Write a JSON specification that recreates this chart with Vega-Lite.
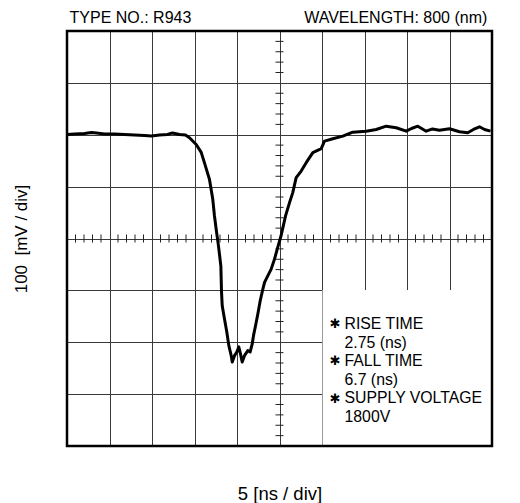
{
  "$schema": "https://vega.github.io/schema/vega-lite/v6.json",
  "width": 425,
  "height": 415,
  "autosize": {"type": "none"},
  "padding": {"left": 67, "top": 31, "right": 28, "bottom": 57},
  "background": "white",
  "config": {
    "view": {"stroke": null},
    "font": "Liberation Sans",
    "text": {"font": "Liberation Sans", "color": "black"}
  },
  "datasets": {
    "one": [{"k": 1}],
    "wave": [
      {"t":0.06,"v":200.5},{"t":0.88,"v":201.5},{"t":2.06,"v":202.5},{"t":2.88,"v":204.4},{"t":3.47,"v":203.5},{"t":4.41,"v":201.5},{"t":5.59,"v":201.5},{"t":6.76,"v":200.6},{"t":7.94,"v":199.6},{"t":9.12,"v":198.6},{"t":9.94,"v":197.7},{"t":10.88,"v":199.6},{"t":11.82,"v":200.6},{"t":12.41,"v":203.5},{"t":13.24,"v":200.6},{"t":13.94,"v":199.6},{"t":14.41,"v":194.2},{"t":15.2,"v":181.3},{"t":15.79,"v":166},{"t":16.29,"v":139.6},{"t":16.76,"v":114},{"t":17.15,"v":75.6},{"t":17.35,"v":43.5},{"t":17.55,"v":17.9},{"t":17.82,"v":-14.2},{"t":18.1,"v":-52.7},{"t":18.18,"v":-103.3},{"t":18.26,"v":-129.6},{"t":18.53,"v":-155.2},{"t":18.8,"v":-180.2},{"t":19.04,"v":-206.5},{"t":19.32,"v":-225.8},{"t":19.44,"v":-237.9},{"t":19.71,"v":-225.8},{"t":19.98,"v":-218.7},{"t":20.21,"v":-209},{"t":20.41,"v":-222.5},{"t":20.61,"v":-237.9},{"t":20.88,"v":-225.8},{"t":21.27,"v":-216.2},{"t":21.55,"v":-218.7},{"t":21.79,"v":-203.3},{"t":21.94,"v":-187.3},{"t":22.18,"v":-168.1},{"t":22.45,"v":-145.6},{"t":22.73,"v":-120},{"t":23.04,"v":-97.5},{"t":23.24,"v":-84.6},{"t":23.62,"v":-71.9},{"t":24.02,"v":-59},{"t":24.41,"v":-39.8},{"t":24.8,"v":-16.7},{"t":25.2,"v":6.3},{"t":25.71,"v":43.5},{"t":26.18,"v":69.2},{"t":26.56,"v":88.5},{"t":26.96,"v":117.3},{"t":27.55,"v":130},{"t":28.14,"v":146.2},{"t":28.92,"v":165.4},{"t":29.91,"v":173.1},{"t":30.29,"v":187.7},{"t":31.27,"v":192.3},{"t":32.45,"v":197.3},{"t":33.62,"v":205},{"t":35.2,"v":206.9},{"t":36.38,"v":210.2},{"t":37.55,"v":216.5},{"t":38.73,"v":213.5},{"t":39.91,"v":206.9},{"t":40.53,"v":212.1},{"t":41.27,"v":216.5},{"t":42.26,"v":206.9},{"t":43,"v":211.2},{"t":43.82,"v":208.8},{"t":45,"v":211.5},{"t":46.18,"v":205.8},{"t":47.15,"v":203.8},{"t":47.82,"v":210.2},{"t":48.53,"v":215.4},{"t":49.12,"v":210.2},{"t":49.82,"v":206.9}
    ],
    "xticks": [
      {"t":1},{"t":2},{"t":3},{"t":4},{"t":6},{"t":7},{"t":8},{"t":9},{"t":11},{"t":12},{"t":13},{"t":14},{"t":16},{"t":17},{"t":18},{"t":19},{"t":21},{"t":22},{"t":23},{"t":24},{"t":26},{"t":27},{"t":28},{"t":29},{"t":31},{"t":32},{"t":33},{"t":34},{"t":36},{"t":37},{"t":38},{"t":39},{"t":41},{"t":42},{"t":43},{"t":44},{"t":46},{"t":47},{"t":48},{"t":49}
    ],
    "yticks": [
      {"v":-380},{"v":-360},{"v":-340},{"v":-320},{"v":-280},{"v":-260},{"v":-240},{"v":-220},{"v":-180},{"v":-160},{"v":-140},{"v":-120},{"v":-80},{"v":-60},{"v":-40},{"v":-20},{"v":20},{"v":40},{"v":60},{"v":80},{"v":120},{"v":140},{"v":160},{"v":180},{"v":220},{"v":240},{"v":260},{"v":280},{"v":320},{"v":340},{"v":360},{"v":380}
    ]
  },
  "layer": [
    {
      "data": {"name": "wave"},
      "mark": {"type": "line", "color": "black", "strokeWidth": 3, "opacity": 0},
      "encoding": {
        "x": {
          "field": "t", "type": "quantitative",
          "scale": {"domain": [0, 50], "nice": false, "zero": false},
          "axis": {
            "values": [0,5,10,15,20,25,30,35,40,45,50],
            "grid": true, "gridColor": "#3a3a3a", "gridWidth": 1, "gridOpacity": 1,
            "labels": false, "ticks": false, "domain": false,
            "title": "5 [ns / div]", "titleFont": "Liberation Sans", "titleFontSize": 18.5,
            "titleFontWeight": "normal", "titleColor": "black", "titlePadding": 38
          }
        },
        "y": {
          "field": "v", "type": "quantitative",
          "scale": {"domain": [-400, 400], "nice": false, "zero": false},
          "axis": {
            "values": [-400,-300,-200,-100,0,100,200,300,400],
            "grid": true, "gridColor": "#3a3a3a", "gridWidth": 1, "gridOpacity": 1,
            "labels": false, "ticks": false, "domain": false,
            "title": "100\u00a0 [mV / div]", "titleFont": "Liberation Sans", "titleFontSize": 17,
            "titleFontWeight": "normal", "titleColor": "black", "titlePadding": 37
          }
        }
      }
    },
    {
      "data": {"name": "one"},
      "mark": {"type": "rect", "fill": "white", "stroke": null},
      "encoding": {
        "x": {"datum": 30.06, "type": "quantitative"},
        "x2": {"datum": 50},
        "y": {"datum": -400, "type": "quantitative"},
        "y2": {"datum": -99.5}
      }
    },
    {
      "data": {"name": "xticks"},
      "mark": {"type": "tick", "orient": "vertical", "size": 8, "thickness": 1, "color": "#222", "opacity": 1},
      "encoding": {
        "x": {"field": "t", "type": "quantitative"},
        "y": {"datum": 0, "type": "quantitative"}
      }
    },
    {
      "data": {"name": "yticks"},
      "mark": {"type": "tick", "orient": "horizontal", "size": 8, "thickness": 1, "color": "#222", "opacity": 1},
      "encoding": {
        "x": {"datum": 25, "type": "quantitative"},
        "y": {"field": "v", "type": "quantitative"}
      }
    },
    {
      "data": {"name": "wave"},
      "mark": {"type": "line", "color": "black", "strokeWidth": 3, "strokeJoin": "round"},
      "encoding": {
        "x": {"field": "t", "type": "quantitative"},
        "y": {"field": "v", "type": "quantitative"}
      }
    },
    {
      "data": {"name": "one"},
      "mark": {"type": "rect", "fill": null, "stroke": "black", "strokeWidth": 2.5},
      "encoding": {
        "x": {"datum": 0, "type": "quantitative"},
        "x2": {"datum": 50},
        "y": {"datum": -400, "type": "quantitative"},
        "y2": {"datum": 400}
      }
    },
    {
      "data": {"name": "one"},
      "mark": {"type": "text", "text": "TYPE NO.: R943", "align": "left", "baseline": "alphabetic", "fontSize": 16, "dy": -8},
      "encoding": {
        "x": {"datum": 0.3, "type": "quantitative"},
        "y": {"datum": 400, "type": "quantitative"}
      }
    },
    {
      "data": {"name": "one"},
      "mark": {"type": "text", "text": "WAVELENGTH: 800 (nm)", "align": "right", "baseline": "alphabetic", "fontSize": 16, "dy": -8},
      "encoding": {
        "x": {"datum": 49.45, "type": "quantitative"},
        "y": {"datum": 400, "type": "quantitative"}
      }
    },
    {
      "data": {"name": "one"},
      "mark": {"type": "text", "text": ["RISE TIME", "2.75 (ns)", "FALL TIME", "6.7 (ns)", "SUPPLY VOLTAGE", "1800V"], "align": "left", "baseline": "alphabetic", "fontSize": 15.8, "lineHeight": 18.5},
      "encoding": {
        "x": {"datum": 32.65, "type": "quantitative"},
        "y": {"datum": -175, "type": "quantitative"}
      }
    },
    {
      "data": {"name": "one"},
      "mark": {"type": "text", "text": ["✱", "✱", "✱"], "font": "DejaVu Sans", "align": "center", "baseline": "alphabetic", "fontSize": 13, "lineHeight": 37.2, "dy": -1},
      "encoding": {
        "x": {"datum": 31.55, "type": "quantitative"},
        "y": {"datum": -175, "type": "quantitative"}
      }
    }
  ]
}
